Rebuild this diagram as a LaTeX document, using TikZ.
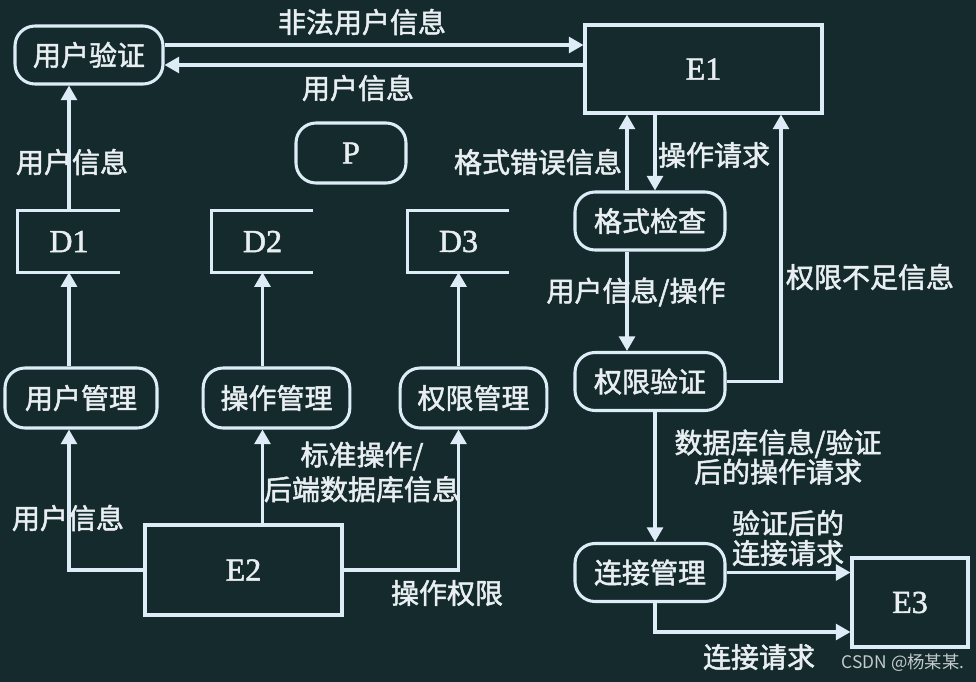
\documentclass[tikz,border=0pt]{standalone}
\usepackage{fontspec}
\setmainfont{Liberation Serif}
\newfontfamily\cjk{Noto Sans CJK SC}[FakeBold=1.8]
\newfontfamily\cjkwm{Noto Sans CJK SC}
\newfontfamily\lat{Liberation Serif}[FakeBold=1.6]
\usetikzlibrary{arrows.meta}
\definecolor{bg}{RGB}{20,42,44}
\definecolor{lc}{RGB}{222,236,248}
\definecolor{tc}{RGB}{232,238,242}
\definecolor{wmc}{RGB}{196,202,206}
\begin{document}
\begin{tikzpicture}[x=0.75pt,y=-0.75pt,
  line/.style={draw=lc,line width=2.3pt},
  arr/.style={line,-{Triangle[length=11pt,width=12pt]}},
  proc/.style={line,rounded corners=15pt,minimum width=112.5pt,minimum height=43.5pt,inner sep=0pt,text=tc,font=\cjk\fontsize{21}{25}\selectfont},
  ent/.style={line,rectangle,inner sep=0pt,text=tc,font=\lat\fontsize{24}{28}\selectfont},
  store/.style={inner sep=0pt,minimum width=76.5pt,minimum height=45.75pt,text=tc,font=\lat\fontsize{24}{28}\selectfont},
  lbl/.style={text=tc,font=\cjk\fontsize{21}{25}\selectfont,inner sep=0pt,align=center}]
\useasboundingbox (0,0) rectangle (976,682);
\fill[bg] (0,0) rectangle (976,682);

% processes
\node[proc,minimum width=111pt] (uv) at (89,55) {用户验证};
\node[proc,minimum width=82.5pt,minimum height=45pt] (P) at (351,153) {\lat\fontsize{24}{28}\selectfont P};
\node[proc,minimum width=114pt,minimum height=45pt] (um) at (81,398) {用户管理};
\node[proc,minimum width=110pt,minimum height=45pt] (om) at (276.5,398) {操作管理};
\node[proc,minimum width=110pt,minimum height=45pt] (pm) at (473.5,398) {权限管理};
\node[proc] (gs) at (650,221) {格式检查};
\node[proc] (qx) at (650,381.5) {权限验证};
\node[proc] (lj) at (650,572.5) {连接管理};

% entities
\node[ent,minimum width=177.75pt,minimum height=66pt] (E1) at (703.5,69) {E1};
\node[ent,minimum width=147.75pt,minimum height=67.5pt] (E2) at (243.5,570) {E2};
\node[ent,minimum width=87pt,minimum height=66.75pt] (E3) at (910,602.5) {E3};

% data stores
\node[store] (D1) at (69,241.5) {D1};
\node[store,minimum width=75.75pt] (D2) at (262.5,241.5) {D2};
\node[store,minimum width=75.75pt] (D3) at (458.5,241.5) {D3};
\foreach \d in {D1,D2,D3}
  \draw[line] (\d.north east) -- (\d.north west) -- (\d.south west) -- (\d.south east);

% helper coordinates
\coordinate (x627) at (627,0);
\coordinate (x655) at (655,0);
\coordinate (x781) at (781,0);
\coordinate (y632) at (0,632);
\coordinate (a1) at ([yshift=7.5pt]uv.east);
\coordinate (a2) at ([yshift=-7.5pt]uv.east);

% top connectors
\draw[arr] (a1) -- (a1 -| E1.west);
\draw[arr] (a2 -| E1.west) -- (a2);
\draw[arr] (D1.north) -- (D1.north |- uv.south);

% stores from management processes
\draw[arr] (D1.south |- um.north) -- (D1.south);
\draw[arr] (D2.south |- om.north) -- (D2.south);
\draw[arr] (D3.south |- pm.north) -- (D3.south);

% E2 connectors
\draw[arr] (E2.west) -| (D1.south |- um.south);
\draw[arr] (E2.north -| D2.south) -- (om.south -| D2.south);
\draw[arr] (E2.east) -| (D3.south |- pm.south);

% right column
\draw[arr] (E1.south -| x655) -- (gs.north -| x655);
\draw[arr] (gs.north -| x627) -- (E1.south -| x627);
\draw[arr] (gs.south -| x627) -- (qx.north -| x627);
\draw[arr] (qx.east) -| (E1.south -| x781);
\draw[arr] (qx.south -| x655) -- (lj.north -| x655);
\draw[arr] (lj.east) -- (lj.east -| E3.west);
\draw[arr] (lj.south -| x655) |- (E3.west |- y632);

% labels
\node[lbl] (l1) at (362,22) {非法用户信息};
\node[lbl] (l2) at (358,88) {用户信息};
\node[lbl] (l3) at (72,162) {用户信息};
\node[lbl] (l4) at (538,162) {格式错误信息};
\node[lbl] (l5) at (714,155) {操作请求};
\node[lbl] (l6) at (636,292) {用户信息/操作};
\node[lbl] (l7) at (870,277) {权限不足信息};
\node[lbl,font=\cjk\fontsize{21}{22}\selectfont] (l8) at (778,457) {数据库信息/验证\\后的操作请求};
\node[lbl,font=\cjk\fontsize{21}{22.5}\selectfont] (l9) at (788,538) {验证后的\\连接请求};
\node[lbl] (l10) at (759,657) {连接请求};
\node[lbl,font=\cjk\fontsize{21}{26}\selectfont] (l11) at (362,472) {标准操作/\\后端数据库信息};
\node[lbl] (l12) at (68,518) {用户信息};
\node[lbl] (l13) at (447,593) {操作权限};
\node[text=wmc,font=\cjkwm\fontsize{13}{15}\selectfont,inner sep=0pt] (wm) at (903,663) {CSDN @杨某某.};
\end{tikzpicture}
\end{document}
